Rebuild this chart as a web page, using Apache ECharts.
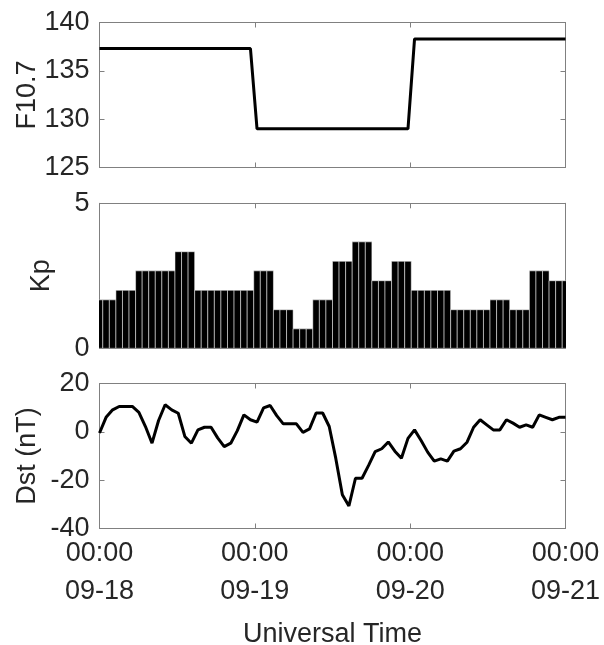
<!DOCTYPE html>
<html><head><meta charset="utf-8">
<script src="https://cdn.jsdelivr.net/npm/echarts@6/dist/echarts.min.js"></script>
<style>html,body{margin:0;padding:0;background:#fff}#c{width:604px;height:645px}</style>
</head><body><div id="c"></div>
<script>
// ---- data ----
const days = ['09-18', '09-19', '09-20'];
const tickLabels = ['00:00\n09-18', '00:00\n09-19', '00:00\n09-20', '00:00\n09-21'];
const f107Daily = [137.3, 129.0, 138.3];
const kp3h = [1.67, 2.0, 2.67, 2.67, 3.33, 2.0, 2.0, 2.0,
              2.67, 1.33, 0.67, 1.67, 3.0, 3.67, 2.33, 3.0,
              2.0, 2.0, 1.33, 1.33, 1.67, 1.33, 2.67, 2.33];
const dst = [-0.5, 6.0, 9.1, 10.5, 10.5, 10.5, 8.1, 2.2, -4.7, 4.7,
             11.2, 9.1, 7.7, -1.9, -4.7, 0.8, 1.9, 1.9, -2.5, -6.1,
             -4.7, 0.5, 7.0, 5.0, 4.0, 9.9, 10.9, 6.7, 3.3, 3.3,
             3.3, -0.2, 1.2, 7.8, 7.8, 2.2, -11.0, -26.0, -30.7, -19.2,
             -19.2, -13.9, -8.2, -7.0, -4.2, -8.0, -10.9, -2.7, 0.8, -3.6,
             -8.4, -12.1, -11.2, -12.1, -8.0, -7.0, -4.3, 1.9, 5.0, 2.9,
             0.8, 0.8, 5.0, 3.6, 1.9, 2.9, 1.9, 7.0, 6.0, 5.0,
             6.0, 6.0];
const yNames = ['F10.7', 'Kp', 'Dst (nT)'];
const yRanges = [[125, 140, 5], [0, 5, 5], [-40, 20, 20]];

// hourly categories (72 hours)
const hours = [];
days.forEach(d => { for (let h = 0; h < 24; h++) hours.push(d + ' ' + String(h).padStart(2, '0') + ':00'); });
const f107Hourly = [];
f107Daily.forEach(v => { for (let h = 0; h < 24; h++) f107Hourly.push(v); });
const kpHourly = [];
kp3h.forEach(v => { for (let h = 0; h < 3; h++) kpHourly.push(v); });

// ---- layout ----
const FONT = '"Liberation Sans", Arial, sans-serif';
const TXT = '#262626';
const AX = '#808080';
const FS = 27;
const tops = [22.5, 203.3, 383.5];
const nameGaps = [58, 44, 58];

const grid = tops.map(t => ({ left: 99.5, right: 38.5, top: t, height: 145,
  outerBoundsMode: 'none', containLabel: false }));
const xAxis = [], yAxis = [];
tops.forEach((t, g) => {
  const line = { show: true, onZero: false, lineStyle: { color: AX, width: 1 } };
  const tick = { show: true, inside: true, length: 5, lineStyle: { color: AX } };
  xAxis.push({
    gridIndex: g, type: 'value', min: 0, max: 72, interval: 24, position: 'bottom',
    axisLine: line, axisTick: tick, splitLine: { show: false },
    axisLabel: { show: g === 2, color: TXT, fontFamily: FONT, fontSize: FS, lineHeight: 38, margin: 6,
      formatter: v => tickLabels[Math.round(v / 24)] },
    name: g === 2 ? 'Universal Time' : '', nameLocation: 'middle', nameGap: 93,
    nameMoveOverlap: false,
    nameTextStyle: { color: TXT, fontFamily: FONT, fontSize: FS }
  });
  xAxis.push({
    gridIndex: g, type: 'value', min: 0, max: 72, interval: 24, position: 'top',
    axisLine: line, axisTick: tick, splitLine: { show: false }, axisLabel: { show: false }
  });
  xAxis.push({ gridIndex: g, type: 'category', data: hours, boundaryGap: false, show: false });
  const r = yRanges[g];
  yAxis.push({
    gridIndex: g, type: 'value', min: r[0], max: r[1], interval: r[2], position: 'left',
    axisLine: line, axisTick: tick, splitLine: { show: false },
    axisLabel: { color: TXT, fontFamily: FONT, fontSize: FS, margin: 10 },
    name: yNames[g], nameLocation: 'middle', nameRotate: 90, nameGap: nameGaps[g],
    nameMoveOverlap: false,
    nameTextStyle: { color: TXT, fontFamily: FONT, fontSize: FS }
  });
  yAxis.push({
    gridIndex: g, type: 'value', min: r[0], max: r[1], interval: r[2], position: 'right',
    axisLine: line, axisTick: tick, splitLine: { show: false }, axisLabel: { show: false }
  });
});

const option = {
  animation: false,
  backgroundColor: '#fff',
  grid, xAxis, yAxis,
  series: [
    { type: 'line', xAxisIndex: 2, yAxisIndex: 0, data: f107Hourly, showSymbol: false, symbol: 'none',
      lineStyle: { color: '#000', width: 3 }, clip: true },
    { type: 'custom', xAxisIndex: 5, yAxisIndex: 2, clip: true,
      data: kpHourly.map((v, i) => [i, v]),
      encode: { x: 0, y: 1 },
      renderItem: (params, api) => {
        const i = api.value(0), v = api.value(1);
        const top = api.coord([i, v]);
        const base = api.coord([i, 0]);
        const w = api.size([1, 0])[0];
        return { type: 'rect',
          shape: { x: top[0] - w / 2, y: top[1], width: w, height: base[1] - top[1] },
          style: { fill: '#000', stroke: '#fff', lineWidth: 0.5 } };
      } },
    { type: 'line', xAxisIndex: 8, yAxisIndex: 4, data: dst, showSymbol: false, symbol: 'none',
      lineStyle: { color: '#000', width: 3 }, clip: true }
  ]
};
const chart = echarts.init(document.getElementById('c'), null, { renderer: 'canvas' });
chart.setOption(option);
</script></body></html>
